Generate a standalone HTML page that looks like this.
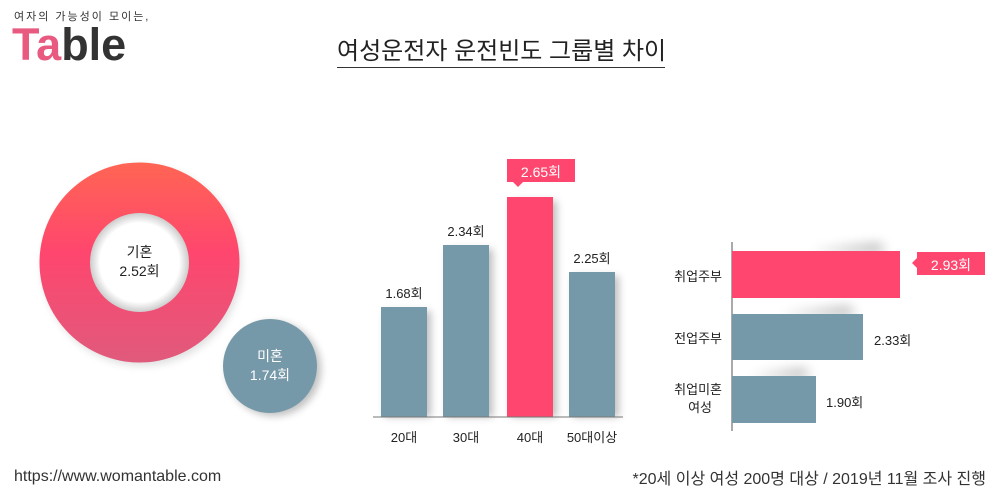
<!DOCTYPE html>
<html><head><meta charset="utf-8"><style>
body{margin:0;width:1000px;height:500px;background:#fff;overflow:hidden;position:relative;font-family:"Liberation Sans","Noto Sans CJK KR",sans-serif;color:#222}
.a{position:absolute;white-space:nowrap}
</style></head><body>
<div class="a" style="left:14px;top:8px;font-size:11px;color:#333;letter-spacing:2px">여자의 가능성이 모이는,</div>
<div class="a" style="left:12px;top:19px;font-size:45px;font-weight:bold;color:#333;letter-spacing:0px"><span style="color:#e85a7f">Ta</span>ble</div>
<div class="a" style="left:337px;top:31px;width:328px;text-align:center;font-size:24px;color:#222">여성운전자 운전빈도 그룹별 차이</div>
<div class="a" style="left:337px;top:67px;width:328px;height:1px;background:#333"></div>
<svg class="a" style="left:0;top:0" width="1000" height="500">
<defs>
<linearGradient id="g" x1="0" y1="0" x2="0" y2="1"><stop offset="0" stop-color="#ff6553"/><stop offset="0.45" stop-color="#ff466e"/><stop offset="1" stop-color="#e05a7c"/></linearGradient>
<radialGradient id="ih" cx="0.5" cy="0.5" r="0.5"><stop offset="0.8" stop-color="#fff"/><stop offset="1" stop-color="#ccc"/></radialGradient>
<filter id="s"><feGaussianBlur stdDeviation="4"/></filter>
<filter id="s2"><feGaussianBlur stdDeviation="6"/></filter>
</defs>
<circle cx="142" cy="266" r="100" fill="#000" opacity="0.12" filter="url(#s)"/>
<circle cx="139.5" cy="262.5" r="100" fill="url(#g)"/>
<circle cx="139.5" cy="262.5" r="49.5" fill="url(#ih)"/>
<circle cx="274" cy="369" r="47" fill="#000" opacity="0.25" filter="url(#s)"/>
<circle cx="270" cy="366" r="47" fill="#7699a9"/>
<g fill="#000" opacity="0.25" filter="url(#s)">
<rect x="385" y="311" width="46" height="106"/><rect x="447" y="249" width="46" height="168"/><rect x="511" y="201" width="46" height="216"/><rect x="573" y="276" width="46" height="141"/>
</g>
<g fill="#000" opacity="0.35" filter="url(#s2)">
<polygon points="810,252 880,244 885,252"/><polygon points="780,315 850,307 855,315"/><polygon points="750,377 805,369 810,377"/>
</g>
<rect x="381" y="307" width="46" height="110" fill="#7699a9"/>
<rect x="443" y="245" width="46" height="172" fill="#7699a9"/>
<rect x="507" y="197" width="46" height="220" fill="#ff466e"/>
<rect x="569" y="272" width="46" height="145" fill="#7699a9"/>
<line x1="373" y1="417" x2="623" y2="417" stroke="#777" stroke-width="1"/>
<rect x="507" y="159" width="68" height="23" fill="#ff466e"/>
<polygon points="513,182 523,182 518,187" fill="#ff466e"/>
<line x1="732" y1="242" x2="732" y2="431" stroke="#555" stroke-width="1"/>
<rect x="732" y="251" width="168" height="47" fill="#ff466e"/>
<rect x="732" y="314" width="131" height="46" fill="#7699a9"/>
<rect x="732" y="376" width="84" height="47" fill="#7699a9"/>
<rect x="917" y="252" width="68" height="23" fill="#ff466e"/>
<polygon points="917,258 917,268 912,263" fill="#ff466e"/>
</svg>
<div class="a" style="left:90px;top:243px;width:99px;text-align:center;font-size:14px;line-height:19px">기혼<br>2.52회</div>
<div class="a" style="left:223px;top:347px;width:94px;text-align:center;font-size:14px;line-height:19px;color:#fff">미혼<br>1.74회</div>
<div class="a" style="left:374px;top:283px;width:60px;text-align:center;font-size:13px">1.68회</div>
<div class="a" style="left:436px;top:221px;width:60px;text-align:center;font-size:13px">2.34회</div>
<div class="a" style="left:507px;top:162px;width:68px;text-align:center;font-size:14px;color:#fff">2.65회</div>
<div class="a" style="left:562px;top:248px;width:60px;text-align:center;font-size:13px">2.25회</div>
<div class="a" style="left:374px;top:427px;width:60px;text-align:center;font-size:13px">20대</div>
<div class="a" style="left:436px;top:427px;width:60px;text-align:center;font-size:13px">30대</div>
<div class="a" style="left:500px;top:427px;width:60px;text-align:center;font-size:13px">40대</div>
<div class="a" style="left:557px;top:427px;width:70px;text-align:center;font-size:13px">50대이상</div>
<div class="a" style="left:640px;top:266px;width:82px;text-align:right;font-size:13px">취업주부</div>
<div class="a" style="left:640px;top:328px;width:82px;text-align:right;font-size:13px">전업주부</div>
<div class="a" style="left:640px;top:381px;width:82px;text-align:right;font-size:13px;line-height:18px">취업미혼<br><span style="margin-right:10px">여성</span></div>
<div class="a" style="left:917px;top:255px;width:68px;text-align:center;font-size:14px;color:#fff">2.93회</div>
<div class="a" style="left:874px;top:330px;font-size:13px">2.33회</div>
<div class="a" style="left:826px;top:392px;font-size:13px">1.90회</div>
<div class="a" style="left:14px;top:468px;font-size:16px;color:#333">https://www.womantable.com</div>
<div class="a" style="right:14px;top:465px;font-size:16px;color:#333">*20세 이상 여성 200명 대상 / 2019년 11월 조사 진행</div>
</body></html>
